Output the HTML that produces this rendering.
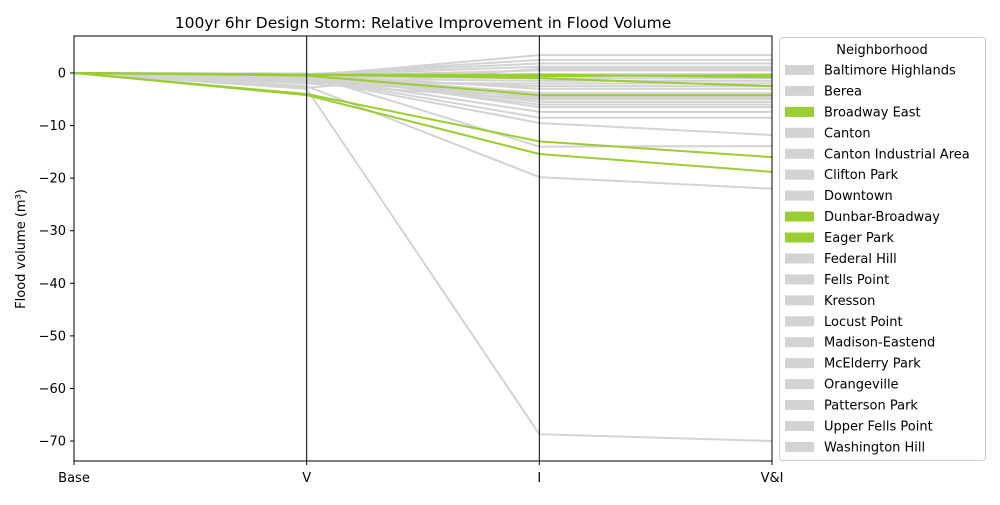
<!DOCTYPE html>
<html><head><meta charset="utf-8"><style>
body{margin:0;background:#fff;font-family:"Liberation Sans","DejaVu Sans",sans-serif}
svg text{font-family:"DejaVu Sans","Liberation Sans",sans-serif}
</style></head><body>
<svg id="chart" width="1000" height="500" xmlns="http://www.w3.org/2000/svg">
<text x="423" y="28" font-size="15.5" text-anchor="middle">100yr 6hr Design Storm: Relative Improvement in Flood Volume</text>
<g id="lines"></g>
<g id="axes"></g>
<text transform="translate(25,249) rotate(-90)" font-size="13" text-anchor="middle">Flood volume (m³)</text>
<g id="legend"></g>
</svg>
<script>
const categories=["Base","V","I","V&I"];
const yTicks=[0,-10,-20,-30,-40,-50,-60,-70];
const grayV=[-3,-2.5,-0.5,-0.3,-0.2,-0.4,-0.6,-0.8,-1,-1.2,-0.3,-0.5,-1.5,-2,-0.2,-0.4,-0.1,-0.7,-0.9,-1.1,-0.3,-2.8,-1.8,-0.6,-0.5];
const grayI=[-68.7,-19.8,3.4,2.5,1.8,1.2,0.5,-0.2,-1.5,-2.5,-3,-3.8,-4.5,-5,-5.5,-6,-6.5,-7.4,-8.5,-9.5,-14,0.8,-2,-1,-4.8];
const grayVI=[-70,-22,3.4,2.5,1.8,1.2,0.5,-0.2,-1.5,-2.5,-3,-3.8,-4.5,-5,-5.5,-6,-6.5,-7.4,-8.5,-11.8,-13.9,0.8,-2,-1,-4.8];
const greenV=[-0.3,-0.3,-0.5,-4,-4.2,-0.3];
const greenI=[-0.6,-1.0,-4.2,-13,-15.4,-0.3];
const greenVI=[-0.4,-2.5,-4.2,-16,-18.8,-0.8];
const legendNames=["Baltimore Highlands","Berea","Broadway East","Canton","Canton Industrial Area","Clifton Park","Downtown","Dunbar-Broadway","Eager Park","Federal Hill","Fells Point","Kresson","Locust Point","Madison-Eastend","McElderry Park","Orangeville","Patterson Park","Upper Fells Point","Washington Hill"];
const legendGreen=["Broadway East","Dunbar-Broadway","Eager Park"];
const NS="http://www.w3.org/2000/svg";
const X0=74,X1=772,Y0=36,Y1=461,VMAX=7.04,VMIN=-73.8;
const xs=i=>X0+(X1-X0)*i/(categories.length-1);
const ys=v=>Y0+(VMAX-v)/(VMAX-VMIN)*(Y1-Y0);
function mk(tag,attrs,parent){const e=document.createElementNS(NS,tag);for(const k in attrs)e.setAttribute(k,attrs[k]);parent.appendChild(e);return e;}
const lg=document.getElementById('lines');
function drawLine(vals,color,name){
  const pts=vals.map((v,i)=>xs(i)+","+ys(v)).join(" ");
  const p=mk('polyline',{points:pts,fill:"none",stroke:color,"stroke-width":2},lg);
  
  
}
grayV.forEach((v,i)=>drawLine([0,v,grayI[i],grayVI[i]],"#d3d3d3","series-line-gray"));
greenV.forEach((v,i)=>drawLine([0,v,greenI[i],greenVI[i]],"#9acd32","series-line-green"));
const ax=document.getElementById('axes');
mk('rect',{x:X0,y:Y0,width:X1-X0,height:Y1-Y0,fill:"none",stroke:"#000","stroke-width":1},ax);
categories.forEach((c,i)=>{
  const l=mk('line',{x1:xs(i),x2:xs(i),y1:Y0,y2:Y1+4,stroke:"#000","stroke-width":1},ax);
  
  
  const t=mk('text',{x:xs(i),y:482,"font-size":13,"text-anchor":"middle"},ax);t.textContent=c;
  
  
});
yTicks.forEach(v=>{
  mk('line',{x1:X0-4,x2:X0,y1:ys(v),y2:ys(v),stroke:"#000"},ax);
  const t=mk('text',{x:X0-8,y:ys(v)+4.5,"font-size":13,"text-anchor":"end"},ax);t.textContent=(v<0?"\u2212"+(-v):v);
  
  
});
const leg=document.getElementById('legend');
mk('rect',{x:779.5,y:37.5,width:206,height:423,rx:3,fill:"#fff",stroke:"#ccc"},leg);
const tt=mk('text',{x:882,y:54,"font-size":13,"text-anchor":"middle"},leg);tt.textContent="Neighborhood";
legendNames.forEach((n,i)=>{
  const y=70+i*20.94;
  const r=mk('rect',{x:785,y:y-5,width:29,height:10,fill:legendGreen.includes(n)?"#9acd32":"#d3d3d3"},leg);
  
  
  const t=mk('text',{x:824,y:y+4.5,"font-size":13},leg);t.textContent=n;
  
  
});
</script>
</body></html>
